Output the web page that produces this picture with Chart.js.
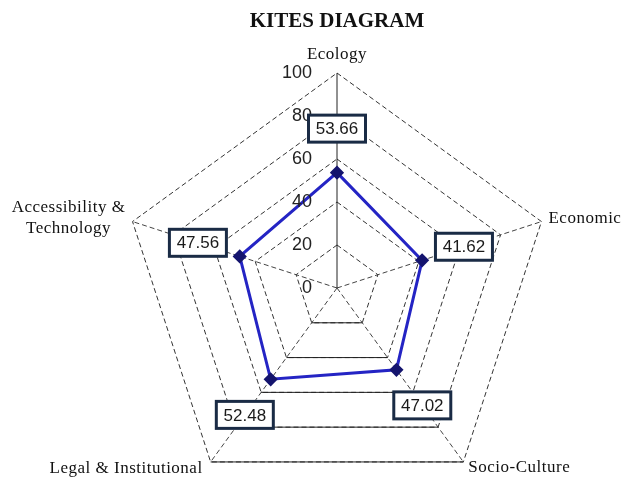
<!DOCTYPE html>
<html>
<head>
<meta charset="utf-8">
<script src="https://cdn.jsdelivr.net/npm/chart.js@4"></script>
<style>
    html, body { margin: 0; padding: 0; overflow: hidden; background: #fff; }
    #wrap { width: 635px; height: 504px; }
</style>
</head>
<body>
<div id="wrap"><canvas id="chart01"></canvas></div>
<script>
(function () {

    const categories = ['Ecology', 'Economic', 'Socio-Culture', 'Legal & Institutional', ['Accessibility &', 'Technology']];
    const scores = [53.66, 41.62, 47.02, 52.48, 47.56];
    const tick_values = [0, 20, 40, 60, 80, 100];

    // where each axis label sits relative to its outer vertex
    const label_place = [
        {align: 'center', dx: 0, dy: -18},
        {align: 'left', dx: 7, dy: -3},
        {align: 'left', dx: 5, dy: 6},
        {align: 'right', dx: -8, dy: 7},
        {align: 'center', dx: -64, dy: -14}
    ];

    const decorations = {
        id: 'decorations',
        beforeDatasetsDraw(chart) {
            // bottom edges of the rings are solid in the original
            const r = chart.scales.r;
            const ctx = chart.ctx;
            ctx.save();
            ctx.strokeStyle = '#222';
            ctx.lineWidth = 1;
            ctx.setLineDash([]);
            tick_values.filter(v => v > 0).forEach(v => {
                const a = r.getPointPositionForValue(2, v);
                const b = r.getPointPositionForValue(3, v);
                ctx.beginPath();
                ctx.moveTo(a.x, a.y);
                ctx.lineTo(b.x, b.y);
                ctx.stroke();
            });
            ctx.restore();
        },
        afterDatasetsDraw(chart) {
            const r = chart.scales.r;
            const ctx = chart.ctx;
            ctx.save();

            // tick labels, left of the vertical spoke
            ctx.font = '18px "Liberation Sans", Arial, sans-serif';
            ctx.fillStyle = '#222';
            ctx.textAlign = 'right';
            ctx.textBaseline = 'middle';
            r.ticks.forEach(t => {
                const y = r.yCenter - r.getDistanceFromCenterForValue(t.value);
                ctx.fillText(t.label, r.xCenter - 25, y);
            });

            // axis labels
            ctx.font = '17px "Liberation Serif", "Times New Roman", serif';
            ctx.fillStyle = '#111';
            if ('letterSpacing' in ctx) ctx.letterSpacing = '0.5px';
            categories.forEach((lab, i) => {
                const p = r.getPointPosition(i, r.drawingArea);
                const place = label_place[i];
                const lines = Array.isArray(lab) ? lab : [lab];
                ctx.textAlign = place.align;
                lines.forEach((line, k) => {
                    ctx.fillText(line, p.x + place.dx, p.y + place.dy + k * 21);
                });
            });
            if ('letterSpacing' in ctx) ctx.letterSpacing = '0px';

            // value boxes
            ctx.font = '17px "Liberation Sans", Arial, sans-serif';
            ctx.textAlign = 'center';
            scores.forEach((v, i) => {
                const p = r.getPointPosition(i, r.getDistanceFromCenterForValue(v) + 44);
                const w = 57, h = 27;
                ctx.fillStyle = '#fff';
                ctx.fillRect(p.x - w / 2, p.y - h / 2, w, h);
                ctx.strokeStyle = '#1a2b45';
                ctx.lineWidth = 3;
                ctx.strokeRect(p.x - w / 2, p.y - h / 2, w, h);
                ctx.fillStyle = '#1a1a1a';
                ctx.fillText(v.toFixed(2), p.x, p.y + 1);
            });

            ctx.restore();
        }
    };

    new Chart(document.getElementById('chart01'), {
        type: 'radar',
        data: {
            labels: categories,
            datasets: [{
                label: 'Kites',
                data: scores,
                borderColor: '#2424c4',
                borderWidth: 3,
                backgroundColor: 'rgba(0,0,0,0)',
                fill: false,
                pointStyle: 'rectRot',
                pointRadius: 5,
                pointBackgroundColor: '#14146e',
                pointBorderColor: '#14146e',
                tension: 0
            }]
        },
        options: {
            responsive: true,
            maintainAspectRatio: false,
            animation: false,
            layout: {
                padding: {left: 39, right: 0, top: 0, bottom: 0}
            },
            plugins: {
                legend: {display: false},
                tooltip: {enabled: false},
                title: {
                    display: true,
                    text: 'KITES DIAGRAM',
                    color: '#111',
                    font: {family: '"Liberation Serif", "Times New Roman", serif', size: 21, weight: 'bold'},
                    padding: {top: 9, bottom: 39}
                }
            },
            scales: {
                r: {
                    min: 0,
                    max: 100,
                    ticks: {
                        stepSize: 20,
                        display: false
                    },
                    pointLabels: {
                        display: false
                    },
                    grid: {
                        color: '#333',
                        lineWidth: 1
                    },
                    border: {
                        dash: [5, 3]
                    },
                    angleLines: {
                        color: ctx => ctx.index === 0 ? '#222' : '#444',
                        lineWidth: 1,
                        borderDash: ctx => ctx.index === 0 ? [] : [5, 3]
                    }
                }
            }
        },
        plugins: [decorations]
    });
})();
</script>
</body>
</html>
